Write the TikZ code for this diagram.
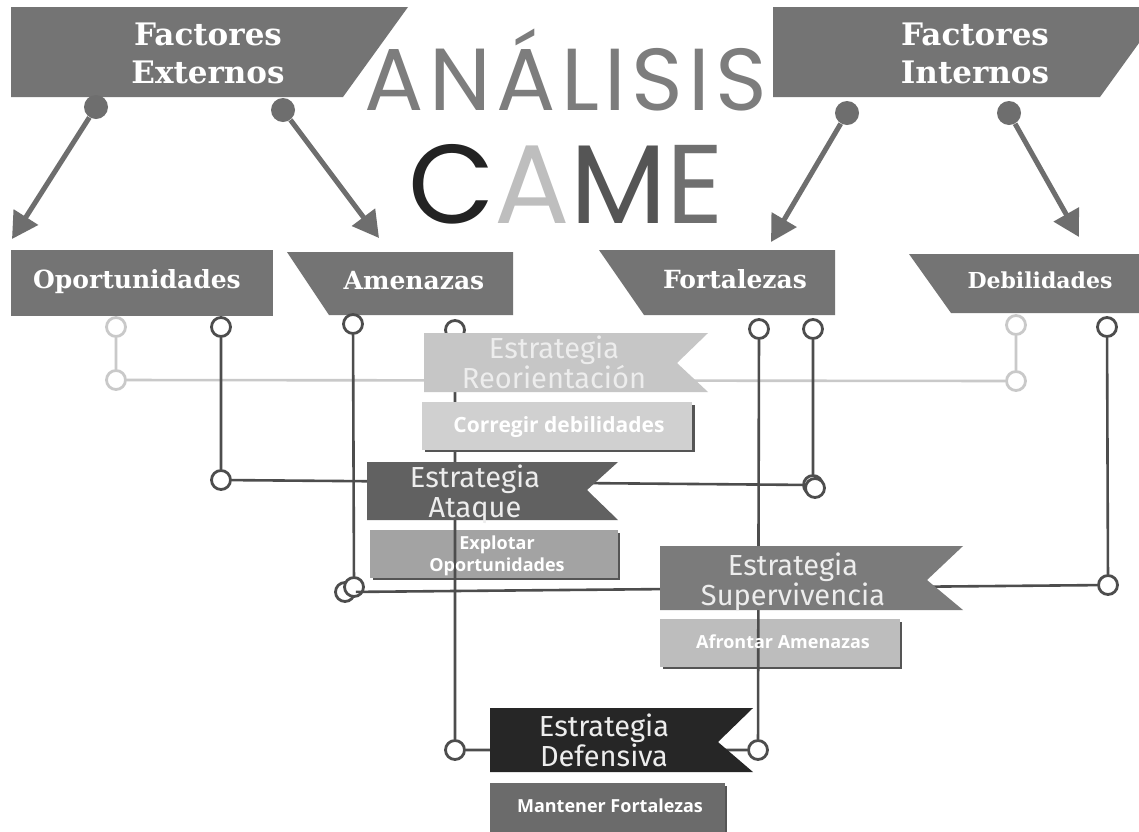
\documentclass[tikz,border=0pt]{standalone}
\usepackage{fontspec}
\newfontfamily\slabfont{DejaVu Serif}
\newfontfamily\titlefont{Poppins}[LetterSpace=6]
\newfontfamily\ribbonfont{Fira Sans}
\newfontfamily\tagfont{Open Sans}
\usetikzlibrary{positioning, arrows.meta}
\definecolor{bandgray}{HTML}{747474}
\definecolor{knobgray}{HTML}{6E6E6E}
\definecolor{titlegray}{HTML}{7D7D7D}
\definecolor{letterC}{HTML}{232323}
\definecolor{letterA}{HTML}{BEBEBE}
\definecolor{letterM}{HTML}{555555}
\definecolor{letterE}{HTML}{6F6F6F}
\definecolor{linedark}{HTML}{4D4D4D}
\definecolor{linelight}{HTML}{C9C9C9}
\definecolor{reoriGray}{HTML}{C6C6C6}
\definecolor{ataqGray}{HTML}{616161}
\definecolor{superGray}{HTML}{7B7B7B}
\definecolor{defGray}{HTML}{262626}
\definecolor{corrGray}{HTML}{D0D0D0}
\definecolor{explGray}{HTML}{A3A3A3}
\definecolor{afroGray}{HTML}{BDBDBD}
\definecolor{mantGray}{HTML}{6B6B6B}
\definecolor{shadeGray}{HTML}{555555}

\begin{document}
\begin{tikzpicture}[x=0.5pt, y=-0.5pt]
	\tikzset{
		knob/.style={circle, fill=knobgray, minimum size=12pt, inner sep=0pt},
		pointer/.style={draw=knobgray, line width=2.5pt, -{Triangle[length=13pt, width=14pt]}},
		ring/.style={circle, draw=#1, fill=white, line width=1.4pt, minimum size=9.5pt, inner sep=0pt},
		ring/.default=linedark,
		link/.style={draw=#1, line width=1.3pt},
		link/.default=linedark,
		headtext/.style={text=white, anchor=base, font=\slabfont\bfseries\fontsize{12.5}{15}\selectfont},
		ribbontext/.style={text=white!93!black, align=center, font=\ribbonfont\fontsize{14.5}{15}\selectfont},
		tagtext/.style={text=white, align=center, font=\tagfont\bfseries\fontsize{9}{10}\selectfont}
	}
	\clip (0,0) rectangle (1139,831);
	\fill[white] (0,0) rectangle (1139,831);

	\fill[bandgray] (11,7) -- (408,7) -- (343,97) -- (11,97) -- cycle;
	\fill[bandgray] (773,7) -- (1165,7) -- (1100,97) -- (773,97) -- cycle;
	\node[headtext, anchor=center, align=center, font=\slabfont\bfseries\fontsize{15.5}{19}\selectfont] (ext) at (208,53) {Factores\\Externos};
	\node[headtext, anchor=center, align=center, font=\slabfont\bfseries\fontsize{15.5}{19}\selectfont] (int) at (975,53) {Factores\\Internos};

	\node[anchor=base, text=titlegray, font=\titlefont\fontsize{44}{44}\selectfont] (analisis) at (566,110) {ANÁLISIS};
	\node[anchor=base, font=\titlefont\fontsize{56}{56}\selectfont] (came) at (566,223)
		{\textcolor{letterC}{C}\textcolor{letterA}{A}\textcolor{letterM}{M}\textcolor{letterE}{E}};

	\foreach \n/\kx/\ky/\tx/\ty in {op/96/107/12/239, am/283/110/379/238, fz/847/113/771/242, db/1009/113/1079/237} {
		\node[knob] (k\n) at (\kx,\ky) {};
		\coordinate (t\n) at (\tx,\ty);
		\draw[pointer] (k\n) -- (t\n);
	}

	\fill[bandgray] (11,250) rectangle (273,316);
	\fill[bandgray] (287,252) -- (513,252) -- (513,315) -- (329,315) -- cycle;
	\fill[bandgray] (599,250) -- (835,250) -- (835,315) -- (644,315) -- cycle;
	\fill[bandgray] (909,254) -- (1139,254) -- (1139,313) -- (951,313) -- cycle;
	\node[headtext] (op) at (137,288) {Oportunidades};
	\node[headtext] (am) at (414,289) {Amenazas};
	\node[headtext] (fz) at (735,288) {Fortalezas};
	\node[headtext, font=\slabfont\bfseries\fontsize{11}{13}\selectfont] (db) at (1040,288) {Debilidades};

	\fill[shadeGray] (373,533) rectangle (620,580);
	\fill[explGray] (370,530) rectangle (618,578);
	\fill[shadeGray] (663,622) rectangle (902,669);
	\fill[afroGray] (660,619) rectangle (900,667);
	\fill[shadeGray] (493,786) rectangle (727,840);
	\fill[mantGray] (490,783) rectangle (725,840);

	\foreach \n/\x/\y in {opd/221/327, amd/353/324, amx/455/330, fza/759/329, fzb/813/329, dbd/1107/327,
		ataL/221/480, ataR/813/485, ataS/815/488, supA/345/592, supB/354/587, supR/1108/585, defL/455/750, defR/758/750}
		\node[ring] (\n) at (\x,\y) {};
	\foreach \n/\x/\y in {opl/116/327, opk/116/380, dbl/1016/325, dbk/1016/381}
		\node[ring=linelight] (\n) at (\x,\y) {};

	\draw[link=linelight] (opl) -- (opk) -- (dbk) -- (dbl);
	\draw[link] (opd) -- (ataL) -- (ataR) -- (fzb);
	\draw[link] (amd) -- (supB);
	\draw[link] (supA) -- (supR) -- (dbd);
	\draw[link] (amx) -- (defL) -- (defR) -- (fza);

	\fill[reoriGray] (424,333) -- (708,333) -- (677,363) -- (708,392) -- (424,392) -- cycle;
	\fill[shadeGray] (425,405) rectangle (695,452);
	\fill[corrGray] (422,402) rectangle (692,450);
	\fill[ataqGray] (367,462) -- (618,462) -- (587,490) -- (618,520) -- (367,520) -- cycle;
	\fill[superGray] (660,546) -- (963,546) -- (927,580) -- (963,610) -- (660,610) -- cycle;
	\fill[defGray] (490,708) -- (753,708) -- (718,742) -- (753,772) -- (490,772) -- cycle;

	\node[ribbontext] (reori) at (554,362) {Estrategia\\Reorientación};
	\node[ribbontext] (ataque) at (475,494) {Estrategia\\Ataque};
	\node[ribbontext] (superv) at (793,582) {Estrategia\\Supervivencia};
	\node[ribbontext] (defens) at (604,740) {Estrategia\\Defensiva};

	\node[tagtext, anchor=base, font=\tagfont\bfseries\fontsize{10.5}{12}\selectfont] (corr) at (559,432) {Corregir debilidades};
	\node[tagtext, font=\tagfont\bfseries\fontsize{9}{11}\selectfont] (expl) at (497,556) {Explotar\\Oportunidades};
	\node[tagtext, anchor=base] (afro) at (783,648) {Afrontar Amenazas};
	\node[tagtext, anchor=base] (mant) at (610,812) {Mantener Fortalezas};
\end{tikzpicture}
\end{document}
